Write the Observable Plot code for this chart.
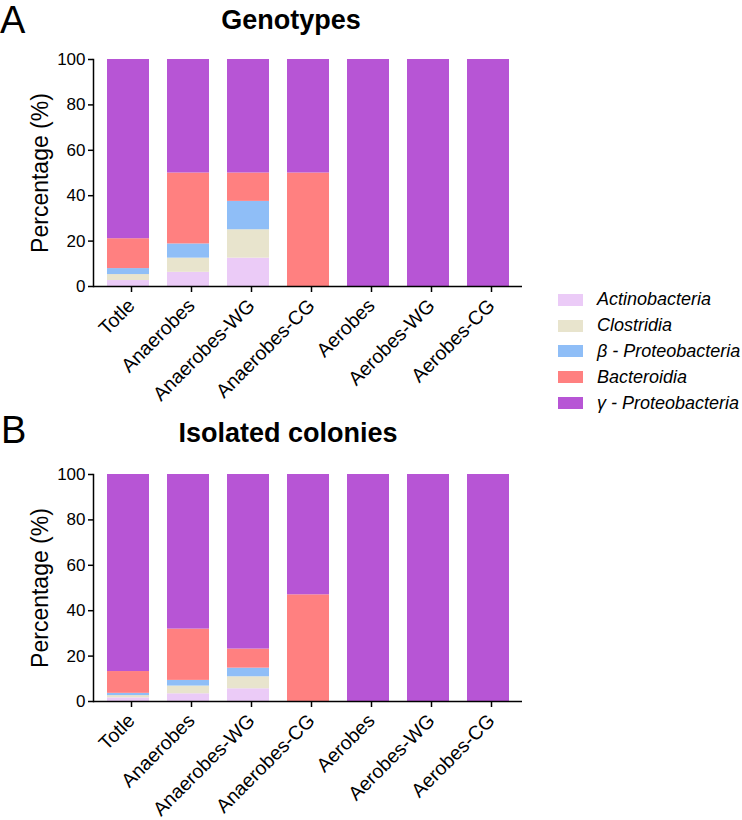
<!DOCTYPE html>
<html><head><meta charset="utf-8">
<script src="https://cdn.jsdelivr.net/npm/d3@7"></script>
<script src="https://cdn.jsdelivr.net/npm/@observablehq/plot@0.6"></script>
<style>
body{margin:0;background:#fff;font-family:"Liberation Sans",Arial,Helvetica,sans-serif;color:#000;}
#wrap{position:relative;width:742px;height:820px;overflow:hidden;}
.panel{position:absolute;left:0;}
.letter{position:absolute;font-size:38px;line-height:1;}
.title{position:absolute;font-weight:bold;font-size:27px;line-height:1;white-space:nowrap;transform:translateX(-50%);}
.legend{position:absolute;left:558px;top:287px;}
.legend .row{display:flex;align-items:center;height:25.8px;}
.legend .sw{width:25px;height:12px;margin-right:14px;flex:none;}
.legend .lab{font-style:italic;font-size:18px;white-space:nowrap;}
g[aria-label="y-axis label"]{font-size:23px;}
</style></head><body><div id="wrap"></div>
<script>
const groups = ["Totle","Anaerobes","Anaerobes-WG","Anaerobes-CG","Aerobes","Aerobes-WG","Aerobes-CG"];
const taxa = ["Actinobacteria","Clostridia","β - Proteobacteria","Bacteroidia","γ - Proteobacteria"];
const colors = ["#EBCBF7","#E8E4CD","#8FBEF7","#FF8080","#B755D5"];
const yTicks = [0,20,40,60,80,100];

// Panel A: Genotypes (%)
const genoActino = [2.63, 6.25, 12.5, 0, 0, 0, 0];
const genoClostridia = [2.63, 6.25, 12.5, 0, 0, 0, 0];
const genoBeta = [2.63, 6.25, 12.5, 0, 0, 0, 0];
const genoBacteroidia = [13.16, 31.25, 12.5, 50, 0, 0, 0];
const genoGamma = [78.95, 50, 50, 50, 100, 100, 100];

// Panel B: Isolated colonies (%)
const isoActino = [1.6, 3.4, 5.6, 0, 0, 0, 0];
const isoClostridia = [1.0, 3.4, 5.3, 0, 0, 0, 0];
const isoBeta = [1.0, 2.5, 3.8, 0, 0, 0, 0];
const isoBacteroidia = [9.6, 22.6, 8.4, 47, 0, 0, 0];
const isoGamma = [86.8, 68.1, 76.9, 53, 100, 100, 100];

function rows(series){
  return series.flatMap((vals,k)=>vals.map((v,i)=>({group:groups[i], taxon:taxa[k], value:v})));
}

const FONT = '"Liberation Sans",Arial,Helvetica,sans-serif';

function panel(data){
  return Plot.plot({
    width: 540, height: 362,
    marginLeft: 93, marginRight: 18, marginTop: 19, marginBottom: 116,
    style: {fontFamily: FONT, fontSize: "17px", color: "#000", background: "white", overflow: "visible"},
    x: {domain: groups, paddingInner: 0.3, paddingOuter: 0.17, label: null},
    y: {domain: [0,100], label: "Percentage (%)"},
    color: {domain: taxa, range: colors},
    marks: [
      Plot.barY(data, {x:"group", y:"value", fill:"taxon", order: taxa}),
      Plot.axisY({ticks: yTicks, tickSize: 5, tickPadding: 3, label: "Percentage (%)", labelAnchor: "center", labelArrow: "none", labelOffset: 62, fontSize: 17, strokeWidth: 1.5}),
      Plot.axisX({tickSize: 6, tickRotate: -45, tickPadding: 10, dx: 3, label: null, fontSize: 19.5, strokeWidth: 1.5}),
      Plot.ruleY([0], {stroke: "#000", strokeWidth: 1.5}),
      Plot.frame({anchor: "left", stroke: "#000", strokeWidth: 1.5})
    ]
  });
}

const wrap = document.getElementById("wrap");
function add(el, top){ const d = document.createElement("div"); d.className="panel"; d.style.top = top+"px"; d.appendChild(el); wrap.appendChild(d); }
add(panel(rows([genoActino, genoClostridia, genoBeta, genoBacteroidia, genoGamma])), 40);
add(panel(rows([isoActino, isoClostridia, isoBeta, isoBacteroidia, isoGamma])), 455);

function text(cls, str, left, top){ const d = document.createElement("div"); d.className = cls; d.textContent = str; d.style.left = left+"px"; d.style.top = top+"px"; wrap.appendChild(d); }
text("letter", "A", 0, 1);
text("letter", "B", 1, 411);
text("title", "Genotypes", 291, 7);
text("title", "Isolated colonies", 288, 420);

const leg = document.createElement("div"); leg.className = "legend";
taxa.forEach((t,i)=>{
  const r = document.createElement("div"); r.className = "row";
  const s = document.createElement("div"); s.className = "sw"; s.style.background = colors[i];
  const l = document.createElement("div"); l.className = "lab"; l.textContent = t;
  r.appendChild(s); r.appendChild(l); leg.appendChild(r);
});
wrap.appendChild(leg);
</script></body></html>
